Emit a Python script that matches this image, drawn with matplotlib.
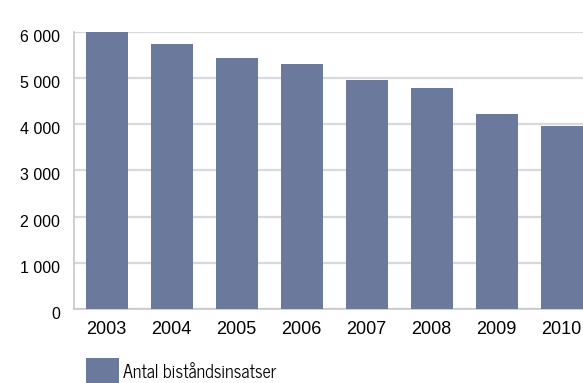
import matplotlib.pyplot as plt
import matplotlib.transforms as mtransforms
from matplotlib.ticker import FuncFormatter

years = ['2003', '2004', '2005', '2006', '2007', '2008', '2009', '2010']
insatser = [6000, 5730, 5430, 5300, 4960, 4780, 4220, 3960]
serie_namn = 'Antal biståndsinsatser'

W, H = 583, 383
fig = plt.figure(figsize=(W / 100, H / 100), dpi=100)
# axes spans past the right edge like the original (last slot is cut off)
ax = fig.add_axes([74 / W, 1 - 309 / H, 520 / W, (309 - 31.7) / H])

bar_color = '#6b7a9c'
ax.bar(range(len(years)), insatser, width=42 / 65, color=bar_color, label=serie_namn, zorder=3)

ax.set_xlim(-0.5, len(years) - 0.5)
ax.set_ylim(0, 6000)
ax.set_yticks(range(0, 6001, 1000))
ax.yaxis.set_major_formatter(FuncFormatter(lambda v, p: f'{int(v):,}'.replace(',', ' ')))
ax.set_xticks(range(len(years)))
ax.set_xticklabels(years)

ax.grid(axis='y', color='#d9d9d9', linewidth=1.6, zorder=0)
for s in ['top', 'right']:
    ax.spines[s].set_visible(False)
for s in ['left', 'bottom']:
    ax.spines[s].set_color('#c8c8c8')
    ax.spines[s].set_linewidth(1.2)

ax.tick_params(axis='both', length=0, colors='#000000')
ax.tick_params(axis='y', pad=10, labelsize=11.5)
ax.tick_params(axis='x', pad=9, labelsize=13)
# y labels sit a bit lower than their gridlines in the original
off = mtransforms.ScaledTranslation(0, -4 / 100, fig.dpi_scale_trans)
for lab in ax.get_yticklabels():
    lab.set_transform(lab.get_transform() + off)
for lab in ax.get_xticklabels() + ax.get_yticklabels():
    lab.set_fontfamily(['Liberation Sans', 'DejaVu Sans'])

fs = 13
em = fs * 100 / 72
leg = fig.legend(loc='upper left', bbox_to_anchor=(86 / W, 1 - 358 / H), frameon=False,
                 borderpad=0, borderaxespad=0, handlelength=33 / em, handleheight=38 / em,
                 handletextpad=4 / em,
                 prop={'family': ['News Cycle', 'DejaVu Sans'], 'size': fs})

fig.savefig('out.png', dpi=100)
